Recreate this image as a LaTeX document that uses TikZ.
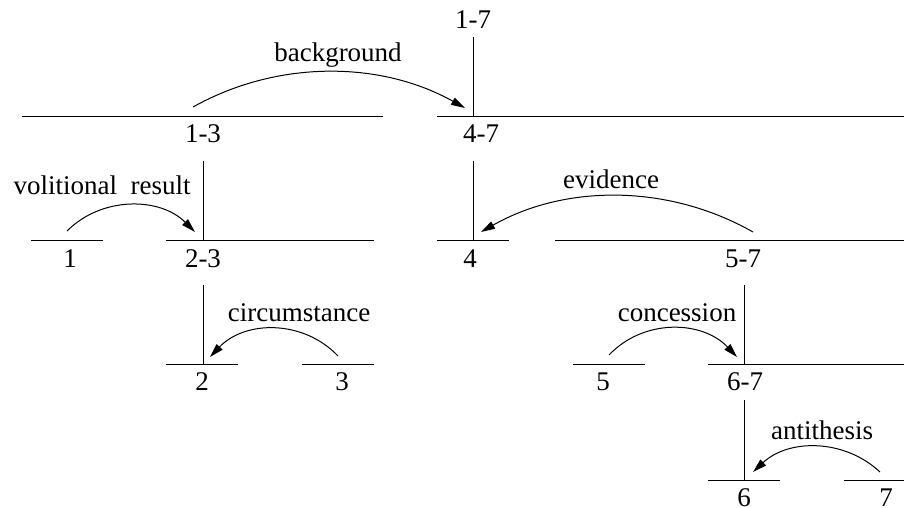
\documentclass[tikz,border=0pt]{standalone}
\usepackage{fontspec}
\setmainfont{Liberation Serif}
\usetikzlibrary{arrows.meta}
\begin{document}
\begin{tikzpicture}[x=1pt,y=-1pt,line width=1pt,
  lbl/.style={inner sep=0pt,font=\fontsize{27}{32}\selectfont},
  rel/.style={-{Triangle[length=14pt,width=8pt]}}]
\useasboundingbox (0,0) rectangle (904,507);
% span labels
\node[lbl] (n17) at (473,20) {1-7};
\node[lbl] (n13) at (203,134) {1-3};
\node[lbl] (n47) at (481,134) {4-7};
\node[lbl] (n1) at (70,259) {1};
\node[lbl] (n23) at (203,259) {2-3};
\node[lbl] (n4) at (470,259) {4};
\node[lbl] (n57) at (743,259) {5-7};
\node[lbl] (n2) at (202,382) {2};
\node[lbl] (n3) at (342,382) {3};
\node[lbl] (n5) at (603,382) {5};
\node[lbl] (n67) at (745,382) {6-7};
\node[lbl] (n6) at (744,498) {6};
\node[lbl] (n7) at (886,498) {7};
% relation labels
\node[lbl] (lbg) at (338,55) {background};
\node[lbl] (lvr) at (102,185) {volitional\hspace{0.5em}result};
\node[lbl] (lev) at (611,179) {evidence};
\node[lbl] (lci) at (299,313) {circumstance};
\node[lbl] (lco) at (677,313) {concession};
\node[lbl] (lan) at (822,430) {antithesis};
% horizontal span segments
\coordinate (h13a) at (22,116);  \coordinate (h13b) at (383,116);
\coordinate (h47a) at (437,116); \coordinate (h47b) at (904,116);
\coordinate (h1a) at (31,240);   \coordinate (h1b) at (103,240);
\coordinate (h23a) at (166,240); \coordinate (h23b) at (374,240);
\coordinate (h4a) at (437,240);  \coordinate (h4b) at (509,240);
\coordinate (h57a) at (555,240); \coordinate (h57b) at (904,240);
\coordinate (h2a) at (166,364);  \coordinate (h2b) at (238,364);
\coordinate (h3a) at (302,364);  \coordinate (h3b) at (374,364);
\coordinate (h5a) at (573,364);  \coordinate (h5b) at (645,364);
\coordinate (h67a) at (708,364); \coordinate (h67b) at (904,364);
\coordinate (h6a) at (708,480);  \coordinate (h6b) at (780,480);
\coordinate (h7a) at (844,480);  \coordinate (h7b) at (904,480);
\draw (h13a) -- (h13b);
\draw (h47a) -- (h47b);
\draw (h1a) -- (h1b);
\draw (h23a) -- (h23b);
\draw (h4a) -- (h4b);
\draw (h57a) -- (h57b);
\draw (h2a) -- (h2b);
\draw (h3a) -- (h3b);
\draw (h5a) -- (h5b);
\draw (h67a) -- (h67b);
\draw (h6a) -- (h6b);
\draw (h7a) -- (h7b);
% vertical nucleus lines
\coordinate (v17a) at (473,37);  \coordinate (v17b) at (473,116);
\coordinate (v23a) at (203,161); \coordinate (v23b) at (203,240);
\coordinate (v4a) at (473,161);  \coordinate (v4b) at (473,240);
\coordinate (v2a) at (203,285);  \coordinate (v2b) at (203,364);
\coordinate (v67a) at (744,285); \coordinate (v67b) at (744,364);
\coordinate (v6a) at (744,400);  \coordinate (v6b) at (744,480);
\draw (v17a) -- (v17b);
\draw (v23a) -- (v23b);
\draw (v4a) -- (v4b);
\draw (v2a) -- (v2b);
\draw (v67a) -- (v67b);
\draw (v6a) -- (v6b);
% relation arcs
\coordinate (bgS) at (193,107); \coordinate (bgT) at (465,108);
\coordinate (vrS) at (67,231);  \coordinate (vrT) at (195,232);
\coordinate (evS) at (753,232); \coordinate (evT) at (481,232);
\coordinate (ciS) at (338,356); \coordinate (ciT) at (210,357);
\coordinate (coS) at (609,355); \coordinate (coT) at (737,357);
\coordinate (anS) at (880,472); \coordinate (anT) at (753,472);
\draw[rel] (bgS) .. controls (277.5,59.7) and (380.5,60.7) .. (bgT);
\draw[rel] (vrS) .. controls (102,196) and (160,197) .. (vrT);
\draw[rel] (evS) .. controls (668.7,184) and (565.3,184) .. (evT);
\draw[rel] (ciS) .. controls (303.2,319.3) and (244.8,320.3) .. (ciT);
\draw[rel] (coS) .. controls (643.8,318.3) and (702.2,320.3) .. (coT);
\draw[rel] (anS) .. controls (844.3,438.6) and (788.7,438.6) .. (anT);
\end{tikzpicture}
\end{document}
